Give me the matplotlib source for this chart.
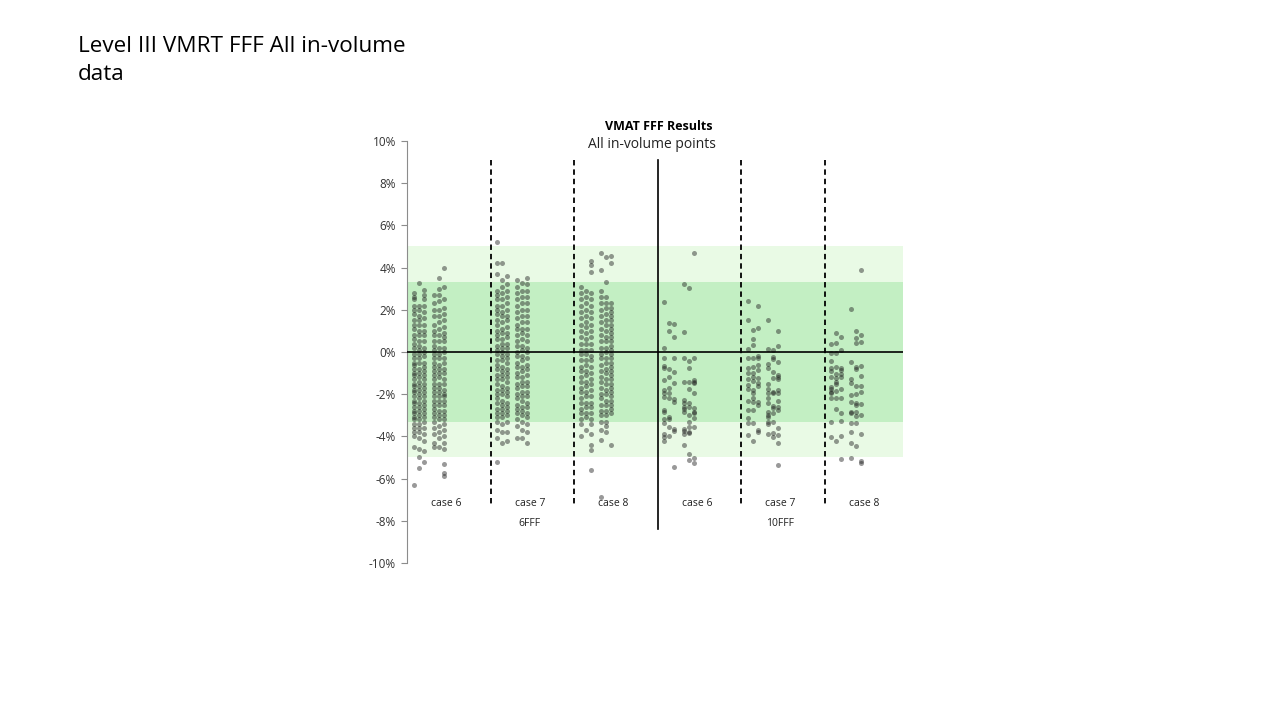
import matplotlib
matplotlib.use("Agg")
import matplotlib.pyplot as plt

plt.rcParams["font.family"] = ["Open Sans", "DejaVu Sans"]

# ---- Data: dose difference (%) per measurement column, 6 columns per case ----
group_labels = ["case 6", "case 7", "case 8", "case 6", "case 7", "case 8"]
energy_labels = ["6FFF", "10FFF"]
band_outer = 5.0
band_inner = 3.3

fff6_case6 = [
    [2.8, 2.6, 2.5, 2.2, 2.0, 1.8, 1.5, 1.3, 1.1, 0.8, 0.6, 0.4, 0.2, -0.1, -0.3, -0.5, -0.6, -0.8, -1.0, -1.1,
     -1.3, -1.5, -1.6, -1.8, -1.9, -2.1, -2.3, -2.4, -2.6, -2.8, -2.9, -3.1, -3.2, -3.4, -3.6, -3.8, -4.0, -4.5, -6.3],
    [3.25, 2.2, 2.0, 1.7, 1.5, 1.3, 1.0, 0.8, 0.5, 0.3, 0.1, -0.1, -0.3, -0.5, -0.8, -1.0, -1.2, -1.4, -1.6, -1.8,
     -2.0, -2.2, -2.4, -2.6, -2.8, -3.0, -3.2, -3.4, -3.6, -3.8, -4.1, -4.6, -5.0, -5.5],
    [2.95, 2.7, 2.5, 2.2, 1.9, 1.6, 1.3, 1.0, 0.8, 0.5, 0.2, 0.0, -0.2, -0.5, -0.7, -0.9, -1.1, -1.3, -1.5, -1.7,
     -1.9, -2.1, -2.3, -2.5, -2.7, -2.9, -3.1, -3.3, -3.6, -3.9, -4.2, -4.7, -5.2],
    [2.7, 2.3, 2.0, 1.7, 1.3, 1.0, 0.8, 0.5, 0.3, 0.1, -0.1, -0.3, -0.5, -0.7, -0.9, -1.1, -1.3, -1.5, -1.7, -1.9,
     -2.1, -2.3, -2.5, -2.7, -2.9, -3.1, -3.3, -3.6, -3.9, -4.3, -4.5],
    [3.5, 3.0, 2.7, 2.4, 2.0, 1.7, 1.4, 1.1, 0.8, 0.5, 0.2, -0.1, -0.3, -0.6, -0.8, -1.0, -1.2, -1.5, -1.7, -1.9,
     -2.1, -2.3, -2.5, -2.8, -3.0, -3.2, -3.5, -3.8, -4.1, -4.5],
    [4.0, 3.1, 2.5, 2.1, 1.8, 1.5, 1.2, 0.9, 0.7, 0.5, 0.2, 0.0, -0.3, -0.5, -0.8, -1.0, -1.3, -1.5, -1.8, -2.0,
     -2.1, -2.3, -2.5, -2.8, -3.0, -3.2, -3.4, -3.7, -4.0, -4.3, -4.6, -5.3, -5.75, -5.9],
]
fff6_case7 = [
    [5.2, 4.2, 3.7, 2.9, 2.7, 2.5, 2.2, 2.0, 1.8, 1.5, 1.3, 1.0, 0.8, 0.6, 0.3, 0.1, -0.1, -0.4, -0.6, -0.8,
     -1.1, -1.3, -1.5, -1.8, -2.0, -2.2, -2.4, -2.7, -2.9, -3.1, -3.3, -3.7, -4.1, -5.2],
    [4.2, 3.4, 3.1, 2.8, 2.5, 2.2, 1.9, 1.7, 1.4, 1.1, 0.9, 0.6, 0.4, 0.2, 0.0, -0.2, -0.4, -0.7, -0.9, -1.1,
     -1.3, -1.6, -1.8, -2.0, -2.3, -2.5, -2.7, -2.9, -3.1, -3.4, -3.8, -4.3],
    [3.6, 3.2, 2.9, 2.6, 2.3, 2.0, 1.7, 1.5, 1.2, 0.9, 0.7, 0.4, 0.2, -0.1, -0.3, -0.5, -0.8, -1.0, -1.2, -1.4,
     -1.7, -1.9, -2.1, -2.4, -2.6, -2.8, -3.0, -3.3, -3.8, -4.2],
    [3.4, 3.1, 2.8, 2.5, 2.2, 1.9, 1.6, 1.3, 1.1, 0.8, 0.5, 0.3, 0.0, -0.2, -0.5, -0.7, -1.0, -1.2, -1.5, -1.7,
     -2.0, -2.2, -2.5, -2.7, -2.9, -3.2, -3.5, -4.1],
    [3.25, 2.9, 2.6, 2.3, 2.0, 1.7, 1.4, 1.1, 0.9, 0.6, 0.3, 0.1, -0.2, -0.4, -0.7, -0.9, -1.2, -1.4, -1.6, -1.9,
     -2.1, -2.3, -2.6, -2.8, -3.0, -3.3, -3.7, -4.1],
    [3.5, 3.2, 2.9, 2.6, 2.3, 2.0, 1.7, 1.4, 1.1, 0.8, 0.5, 0.2, 0.0, -0.3, -0.6, -0.8, -1.1, -1.4, -1.6, -1.9,
     -2.1, -2.4, -2.6, -2.9, -3.1, -3.4, -3.8, -4.3],
]
fff6_case8 = [
    [3.1, 2.8, 2.5, 2.2, 1.9, 1.6, 1.3, 1.0, 0.7, 0.4, 0.1, -0.1, -0.4, -0.7, -0.9, -1.2, -1.4, -1.7, -1.9, -2.2,
     -2.4, -2.7, -2.9, -3.2, -3.4, -4.0],
    [2.9, 2.6, 2.3, 2.0, 1.7, 1.4, 1.2, 0.9, 0.6, 0.4, 0.1, -0.1, -0.4, -0.6, -0.9, -1.1, -1.4, -1.6, -1.9, -2.1,
     -2.4, -2.6, -2.9, -3.1, -3.7],
    [4.3, 4.1, 3.8, 2.8, 2.5, 2.2, 1.9, 1.6, 1.3, 1.0, 0.7, 0.4, 0.1, -0.2, -0.4, -0.7, -1.0, -1.3, -1.5, -1.8,
     -2.1, -2.4, -2.6, -2.9, -3.2, -3.4, -3.9, -4.4, -4.65, -5.6],
    [4.7, 3.9, 2.9, 2.6, 2.3, 2.0, 1.7, 1.4, 1.1, 0.8, 0.5, 0.2, -0.1, -0.3, -0.6, -0.9, -1.2, -1.4, -1.7, -2.0,
     -2.2, -2.5, -2.8, -3.0, -3.3, -3.7, -4.15, -6.85],
    [4.5, 3.3, 2.6, 2.3, 2.1, 1.8, 1.5, 1.3, 1.0, 0.7, 0.5, 0.2, 0.0, -0.3, -0.5, -0.8, -1.0, -1.3, -1.5, -1.8,
     -2.0, -2.3, -2.5, -2.8, -3.0, -3.3, -3.5, -3.8],
    [4.55, 4.2, 2.3, 2.1, 1.9, 1.7, 1.5, 1.3, 1.1, 0.9, 0.7, 0.5, 0.3, 0.1, -0.1, -0.3, -0.5, -0.7, -0.9, -1.1,
     -1.3, -1.5, -1.7, -1.9, -2.1, -2.3, -2.5, -2.7, -2.9, -4.4],
]
fff10_case6 = [
    [2.39, 0.17, -0.30, -0.66, -0.74, -1.33, -1.80, -1.96, -2.12, -2.75, -2.83, -3.16, -3.38, -3.89, -4.01, -4.20],
    [1.36, 1.01, -0.82, -1.17, -1.72, -1.96, -2.20, -3.06, -3.18, -3.54, -3.98],
    [1.31, 0.70, -0.30, -0.93, -1.48, -2.24, -2.35, -3.67, -3.73, -5.47],
    [3.22, 0.93, -0.30, -1.44, -2.27, -2.43, -2.59, -2.72, -2.83, -3.67, -3.73, -3.89, -4.41],
    [3.02, -0.43, -0.74, -1.44, -1.77, -2.43, -2.59, -2.99, -3.30, -3.54, -3.78, -3.85, -4.83, -5.12],
    [4.68, -0.27, -1.33, -1.41, -1.48, -1.93, -2.67, -2.83, -2.91, -3.14, -3.57, -5.01, -5.28],
]
fff10_case7 = [
    [2.42, 1.52, 0.13, -0.27, -0.74, -1.01, -1.30, -1.56, -1.75, -2.31, -2.75, -3.14, -3.35, -3.93],
    [1.04, 0.60, 0.33, -0.30, -0.70, -1.01, -1.20, -1.36, -1.80, -1.96, -2.20, -2.35, -2.75, -3.35, -4.22],
    [2.20, 1.15, -0.19, -0.30, -0.62, -0.85, -1.25, -1.48, -1.61, -2.35, -2.51, -3.70, -3.78],
    [1.52, 0.13, -0.58, -0.74, -1.53, -1.77, -1.96, -2.20, -2.43, -2.83, -2.99, -3.06, -3.30, -3.41, -3.89],
    [0.09, -0.22, -0.35, -0.93, -1.22, -1.88, -1.96, -2.54, -2.67, -2.88, -3.30, -3.85, -4.04],
    [1.00, 0.28, -0.49, -1.09, -1.17, -1.28, -1.80, -1.96, -2.31, -2.59, -2.75, -3.62, -3.93, -4.30, -5.36],
]
fff10_case8 = [
    [0.36, -0.06, -0.43, -0.74, -0.90, -1.17, -1.67, -1.77, -1.88, -1.96, -2.20, -3.33, -4.01],
    [0.88, 0.41, -0.06, -0.73, -1.04, -1.25, -1.41, -1.52, -1.83, -2.20, -2.72, -4.22],
    [0.73, 0.09, -0.74, -0.85, -1.04, -1.17, -1.77, -2.20, -2.88, -3.27, -3.98, -5.09],
    [2.04, -0.46, -1.28, -1.48, -2.04, -2.35, -2.83, -2.91, -3.35, -3.78, -4.30, -5.01],
    [1.01, 0.65, 0.41, -0.70, -0.82, -1.61, -1.99, -2.43, -2.51, -2.83, -3.03, -3.35, -4.45],
    [3.89, 0.81, 0.49, -0.66, -1.12, -1.61, -1.88, -2.48, -2.99, -3.89, -5.15, -5.28],
]
groups = [fff6_case6, fff6_case7, fff6_case8, fff10_case6, fff10_case7, fff10_case8]
col_offsets = [0.08, 0.14, 0.20, 0.32, 0.38, 0.44]

# ---- Figure (slide layout) ----
fig = plt.figure(figsize=(12.8, 7.2), dpi=100, facecolor="white")
fig.text(78 / 1280, 1 - 36 / 720, "Level III VMRT FFF All in-volume\ndata",
         fontsize=16.2, ha="left", va="top", color="black", linespacing=1.45)

ax = fig.add_axes([0.318, 0.2181, 0.3875, 0.5861])
xmax = 5.94
ax.set_xlim(0, xmax)
ax.set_ylim(-10, 10)

# tolerance bands
ax.axhspan(-band_outer, band_outer, color="#E9FAE5", lw=0, zorder=0)
ax.axhspan(-band_inner, band_inner, color="#C3EFC3", lw=0, zorder=0.5)

# points
for gi, cols in enumerate(groups):
    for ci, vals in enumerate(cols):
        ax.scatter([gi + col_offsets[ci]] * len(vals), vals, s=13, color="#1e1e1e",
                   alpha=0.45, linewidths=0, zorder=2)

ax.axhline(0, color="black", lw=1.2, zorder=3)

# separators
for xb in [1, 2, 4, 5]:
    ax.plot([xb, xb], [9.1, -7.3], color="black", lw=1.3, linestyle=(0, (3, 2.2)),
            zorder=3, clip_on=False)
ax.plot([3, 3], [9.1, -8.4], color="black", lw=1.2, zorder=3, clip_on=False)

for gi, lab in enumerate(group_labels):
    ax.text(gi + 0.47, -7.2, lab, ha="center", va="center", fontsize=7.5, color="#222222")
for ei, lab in enumerate(energy_labels):
    ax.text(1.47 + 3 * ei, -8.15, lab, ha="center", va="center", fontsize=7.5, color="#222222")

# axes styling
for side in ["top", "right", "bottom"]:
    ax.spines[side].set_visible(False)
ax.spines["left"].set_color("#8c8c8c")
ax.set_xticks([])
ax.set_yticks(range(-10, 11, 2))
ax.set_yticklabels([f"{v}%" for v in range(-10, 11, 2)])
ax.tick_params(axis="y", colors="#8c8c8c", labelcolor="#333333", length=4, labelsize=8.5, pad=4)
ax.set_facecolor("none")

fig.text(659 / 1280, 1 - 126 / 720, "VMAT FFF Results", ha="center", va="center",
         fontsize=9, fontweight="bold", color="black")
fig.text(652 / 1280, 1 - 144 / 720, "All in-volume points", ha="center", va="center",
         fontsize=10, color="#222222")

fig.savefig("out.png", dpi=100, facecolor="white")
